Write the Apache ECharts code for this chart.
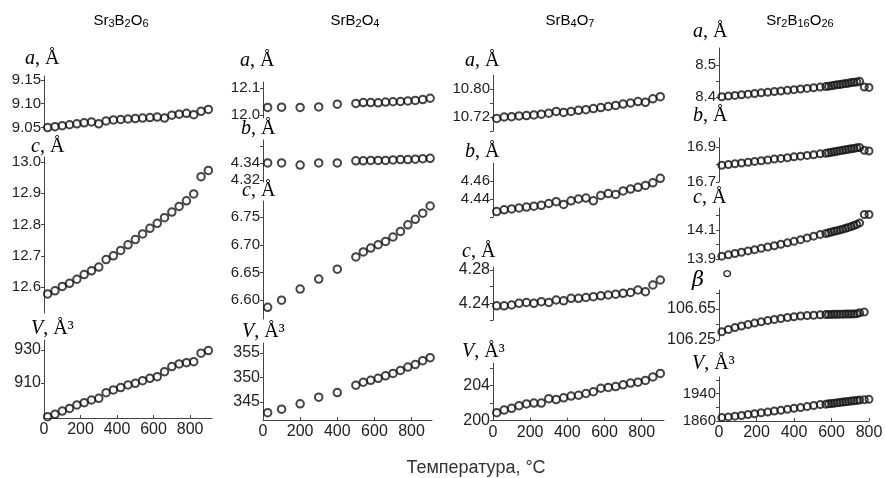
<!DOCTYPE html>
<html>
<head>
<meta charset="utf-8">
<script src="https://cdn.jsdelivr.net/npm/echarts@6/dist/echarts.min.js"></script>
<style>
  html, body { margin: 0; padding: 0; background: #fff; }
  #chart { width: 885px; height: 478px; }
</style>
</head>
<body>
<div id="chart"></div>
<script>
// Temperatures (°C) of the measurements for each compound
const temps1 = [20, 60, 100, 140, 180, 220, 260, 300, 340, 380, 420, 460, 500, 540, 580, 620, 660, 700, 740, 780, 820, 860, 900];
const temps2 = [25, 100, 200, 300, 400, 500, 540, 580, 620, 660, 700, 740, 780, 820, 860, 900];
const temps3 = [20, 60, 100, 140, 180, 220, 260, 300, 340, 380, 420, 460, 500, 540, 580, 620, 660, 700, 740, 780, 820, 860, 900];
const temps4 = [15, 50, 85, 120, 155, 190, 225, 260, 295, 330, 365, 400, 435, 470, 505, 540, 570, 585, 600, 615, 630, 645, 660, 675, 690, 705, 720, 735, 750, 775, 800];

// Sr3B2O6 lattice parameters
const sr3b2o6_a = [9.050, 9.052, 9.054, 9.056, 9.058, 9.060, 9.062, 9.058, 9.064, 9.066, 9.067, 9.068, 9.069, 9.070, 9.071, 9.072, 9.070, 9.076, 9.078, 9.080, 9.077, 9.084, 9.088];
const sr3b2o6_c = [12.578, 12.588, 12.602, 12.612, 12.625, 12.640, 12.652, 12.664, 12.688, 12.700, 12.717, 12.735, 12.752, 12.770, 12.788, 12.804, 12.822, 12.840, 12.858, 12.876, 12.898, 12.953, 12.973];
const sr3b2o6_V = [889.6, 891.0, 893.0, 894.6, 896.7, 898.1, 899.7, 900.7, 904.1, 905.8, 907.2, 908.8, 909.8, 911.4, 912.8, 913.8, 916.8, 919.9, 921.5, 922.3, 922.9, 928.0, 929.6];

// SrB2O4 lattice parameters
const srb2o4_a = [12.028, 12.029, 12.028, 12.030, 12.040, 12.043, 12.046, 12.046, 12.045, 12.048, 12.049, 12.050, 12.052, 12.054, 12.057, 12.062];
const srb2o4_b = [4.340, 4.340, 4.3375, 4.340, 4.340, 4.3425, 4.3425, 4.343, 4.343, 4.343, 4.3435, 4.344, 4.344, 4.3445, 4.345, 4.3455];
const srb2o4_c = [6.587, 6.600, 6.620, 6.638, 6.656, 6.678, 6.687, 6.694, 6.700, 6.706, 6.714, 6.724, 6.736, 6.746, 6.757, 6.770];
const srb2o4_V = [342.8, 343.5, 344.6, 345.95, 346.9, 348.4, 349.0, 349.4, 349.8, 350.3, 350.8, 351.4, 352.1, 352.6, 353.4, 354.0];

// SrB4O7 lattice parameters
const srb4o7_a = [10.716, 10.720, 10.721, 10.723, 10.724, 10.726, 10.728, 10.731, 10.736, 10.733, 10.736, 10.739, 10.741, 10.744, 10.747, 10.750, 10.753, 10.757, 10.760, 10.764, 10.762, 10.772, 10.778];
const srb4o7_b = [4.426, 4.428, 4.429, 4.430, 4.431, 4.432, 4.433, 4.435, 4.437, 4.434, 4.438, 4.440, 4.441, 4.438, 4.444, 4.446, 4.445, 4.449, 4.451, 4.453, 4.455, 4.458, 4.463];
const srb4o7_c = [4.237, 4.237, 4.238, 4.240, 4.241, 4.240, 4.242, 4.241, 4.244, 4.243, 4.246, 4.246, 4.247, 4.248, 4.249, 4.250, 4.251, 4.252, 4.253, 4.256, 4.254, 4.262, 4.268];
const srb4o7_V = [200.9, 201.2, 201.4, 201.7, 201.9, 202.0, 202.0, 202.5, 202.4, 202.6, 202.8, 202.9, 203.1, 203.3, 203.7, 203.8, 203.9, 204.1, 204.3, 204.4, 204.6, 205.0, 205.4];

// Sr2B16O26 lattice parameters
const sr2b16o26_a = [8.401, 8.403, 8.405, 8.407, 8.409, 8.411, 8.413, 8.415, 8.417, 8.419, 8.421, 8.423, 8.425, 8.427, 8.429, 8.431, 8.433, 8.434, 8.435, 8.437, 8.438, 8.439, 8.441, 8.442, 8.443, 8.445, 8.446, 8.447, 8.449, 8.431, 8.430];
const sr2b16o26_b = [16.795, 16.799, 16.804, 16.808, 16.812, 16.817, 16.821, 16.825, 16.830, 16.834, 16.838, 16.843, 16.847, 16.851, 16.855, 16.860, 16.863, 16.866, 16.869, 16.872, 16.875, 16.878, 16.880, 16.883, 16.886, 16.889, 16.891, 16.894, 16.896, 16.880, 16.876];
const sr2b16o26_c = [13.918, 13.927, 13.936, 13.945, 13.954, 13.963, 13.972, 13.981, 13.990, 14.000, 14.010, 14.020, 14.032, 14.044, 14.056, 14.068, 14.074, 14.079, 14.084, 14.089, 14.094, 14.099, 14.104, 14.110, 14.116, 14.122, 14.129, 14.137, 14.147, 14.205, 14.205];
const sr2b16o26_beta = [106.357, 106.385, 106.410, 106.430, 106.450, 106.468, 106.485, 106.500, 106.515, 106.528, 106.540, 106.550, 106.560, 106.565, 106.570, 106.575, 106.578, 106.580, 106.580, 106.582, 106.582, 106.583, 106.583, 106.585, 106.585, 106.586, 106.587, 106.590, 106.600, 106.610, null];
const sr2b16o26_V = [1870, 1872, 1874, 1876, 1879, 1881, 1884, 1886, 1889, 1891, 1894, 1897, 1899, 1902, 1905, 1908, 1909, 1910, 1911, 1912, 1913, 1914, 1915, 1916, 1917, 1918, 1919, 1920, 1921, 1922, 1923];

// Tick positions and tick labels
const xTickValues = [0, 200, 400, 600, 800];
const xTickLabels = ['0', '200', '400', '600', '800'];

const ticks_sr3b2o6_a = [9.05, 9.10, 9.15];     const labels_sr3b2o6_a = ['9.05', '9.10', '9.15'];
const ticks_sr3b2o6_c = [12.6, 12.7, 12.8, 12.9, 13.0]; const labels_sr3b2o6_c = ['12.6', '12.7', '12.8', '12.9', '13.0'];
const ticks_sr3b2o6_V = [910, 930];             const labels_sr3b2o6_V = ['910', '930'];

const ticks_srb2o4_a = [12.0, 12.1];            const labels_srb2o4_a = ['12.0', '12.1'];
const ticks_srb2o4_b = [4.32, 4.34, 4.36];      const labels_srb2o4_b = ['4.32', '4.34'];
const ticks_srb2o4_c = [6.60, 6.65, 6.70, 6.75]; const labels_srb2o4_c = ['6.60', '6.65', '6.70', '6.75'];
const ticks_srb2o4_V = [345, 350, 355];         const labels_srb2o4_V = ['345', '350', '355'];

const ticks_srb4o7_a = [10.68, 10.72, 10.76, 10.80]; const labels_srb4o7_a = ['10.72', '10.80'];
const ticks_srb4o7_b = [4.42, 4.44, 4.46];      const labels_srb4o7_b = ['4.44', '4.46'];
const ticks_srb4o7_c = [4.22, 4.24, 4.26, 4.28]; const labels_srb4o7_c = ['4.24', '4.28'];
const ticks_srb4o7_V = [200, 202, 204, 206];    const labels_srb4o7_V = ['200', '204'];

const ticks_sr2b16o26_a = [8.40, 8.45, 8.50];   const labels_sr2b16o26_a = ['8.4', '8.5'];
const ticks_sr2b16o26_b = [16.7, 16.8, 16.9];   const labels_sr2b16o26_b = ['16.7', '16.9'];
const ticks_sr2b16o26_c = [13.9, 14.0, 14.1, 14.2]; const labels_sr2b16o26_c = ['13.9', '14.1'];
const ticks_sr2b16o26_beta = [106.25, 106.45, 106.65, 106.85]; const labels_sr2b16o26_beta = ['106.25', '106.65'];
const ticks_sr2b16o26_V = [1860, 1900, 1940, 1980]; const labels_sr2b16o26_V = ['1860', '1940'];

const compounds = [
  ['Sr', '3', 'B', '2', 'O', '6'],
  ['Sr', '', 'B', '2', 'O', '4'],
  ['Sr', '', 'B', '4', 'O', '7'],
  ['Sr', '2', 'B', '16', 'O', '26']
];
const xAxisTitle = 'Температура, °C';

// ---- layout of the four columns (pixels) ----
const columns = [
  { left: 44,  width: 168, xmax: 920, titleX: 121 },
  { left: 263, width: 169, xmax: 910, titleX: 355 },
  { left: 493, width: 171, xmax: 920, titleX: 570 },
  { left: 719, width: 150, xmax: 800, titleX: 800 }
];

// one entry per small panel: data, y range and vertical placement
const panels = [
  { col: 0, t: temps1, v: sr3b2o6_a, min: 9.045, max: 9.158, top: 76, h: 54, ticks: ticks_sr3b2o6_a, labels: labels_sr3b2o6_a, name: 'a', unit: ', Å', lx: 25, ly: 69, fs: 15 },
  { col: 0, t: temps1, v: sr3b2o6_c, min: 12.517, max: 13.016, top: 157, h: 156, ticks: ticks_sr3b2o6_c, labels: labels_sr3b2o6_c, name: 'c', unit: ', Å', lx: 31, ly: 157, fs: 15 },
  { col: 0, t: temps1, v: sr3b2o6_V, min: 888.8, max: 936, top: 340, h: 78, ticks: ticks_sr3b2o6_V, labels: labels_sr3b2o6_V, name: 'V', unit: ', Å³', lx: 31, ly: 339, fs: 16, bottom: true },

  { col: 1, t: temps2, v: srb2o4_a, min: 11.989, max: 12.122, top: 82, h: 36, ticks: ticks_srb2o4_a, labels: labels_srb2o4_a, name: 'a', unit: ', Å', lx: 240, ly: 71, fs: 15 },
  { col: 1, t: temps2, v: srb2o4_b, min: 4.3176, max: 4.367, top: 140, h: 42, ticks: ticks_srb2o4_b, labels: labels_srb2o4_b, name: 'b', unit: ', Å', lx: 241, ly: 139, fs: 15 },
  { col: 1, t: temps2, v: srb2o4_c, min: 6.566, max: 6.779, top: 201, h: 118, ticks: ticks_srb2o4_c, labels: labels_srb2o4_c, name: 'c', unit: ', Å', lx: 242, ly: 201, fs: 15 },
  { col: 1, t: temps2, v: srb2o4_V, min: 341.3, max: 357, top: 343, h: 77, ticks: ticks_srb2o4_V, labels: labels_srb2o4_V, name: 'V', unit: ', Å³', lx: 242, ly: 342, fs: 16, bottom: true },

  { col: 2, t: temps3, v: srb4o7_a, min: 10.68, max: 10.84, top: 75, h: 56, ticks: ticks_srb4o7_a, labels: labels_srb4o7_a, name: 'a', unit: ', Å', lx: 465, ly: 71, fs: 15 },
  { col: 2, t: temps3, v: srb4o7_b, min: 4.42, max: 4.48, top: 163, h: 54, ticks: ticks_srb4o7_b, labels: labels_srb4o7_b, name: 'b', unit: ', Å', lx: 465, ly: 162, fs: 15 },
  { col: 2, t: temps3, v: srb4o7_c, min: 4.22, max: 4.2836, top: 267, h: 53, ticks: ticks_srb4o7_c, labels: labels_srb4o7_c, name: 'c', unit: ', Å', lx: 462, ly: 262, fs: 16 },
  { col: 2, t: temps3, v: srb4o7_V, min: 200, max: 206.6, top: 363, h: 57.5, ticks: ticks_srb4o7_V, labels: labels_srb4o7_V, name: 'V', unit: ', Å³', lx: 462, ly: 362, fs: 16, bottom: true },

  { col: 3, t: temps4, v: sr2b16o26_a, min: 8.397, max: 8.553, top: 48, h: 50, ticks: ticks_sr2b16o26_a, labels: labels_sr2b16o26_a, name: 'a', unit: ', Å', lx: 693, ly: 42, fs: 15 },
  { col: 3, t: temps4, v: sr2b16o26_b, min: 16.7, max: 16.95, top: 138, h: 44, ticks: ticks_sr2b16o26_b, labels: labels_sr2b16o26_b, name: 'b', unit: ', Å', lx: 693, ly: 126, fs: 15 },
  { col: 3, t: temps4, v: sr2b16o26_c, min: 13.895, max: 14.25, top: 208, h: 51.5, ticks: ticks_sr2b16o26_c, labels: labels_sr2b16o26_c, name: 'c', unit: ', Å', lx: 693, ly: 208, fs: 15 },
  { col: 3, t: temps4, v: sr2b16o26_beta, min: 106.25, max: 106.895, top: 290, h: 50, ticks: ticks_sr2b16o26_beta, labels: labels_sr2b16o26_beta, name: 'β', unit: '', lx: 692, ly: 291, fs: 16 },
  { col: 3, t: temps4, v: sr2b16o26_V, min: 1860, max: 1988, top: 377, h: 44, ticks: ticks_sr2b16o26_V, labels: labels_sr2b16o26_V, name: 'V', unit: ', Å³', lx: 692, ly: 374, fs: 15, bottom: true }
];

const INK = '#222';
const AXIS = '#444';

function labelFormatter(labels) {
  return function (value) {
    const hit = labels.find(s => Math.abs(Number(s) - value) < 1e-9);
    return hit === undefined ? '' : hit;
  };
}

const grids = [], xAxes = [], yAxes = [], series = [];
panels.forEach((p, i) => {
  const c = columns[p.col];
  grids.push({ left: c.left, top: p.top, width: c.width, height: p.h, containLabel: false, outerBoundsMode: 'none' });
  xAxes.push({
    type: 'value', gridIndex: i, min: 0, max: c.xmax, show: !!p.bottom,
    axisLine: { show: true, lineStyle: { color: AXIS, width: 1 } },
    axisTick: { show: true, inside: true, length: 3, lineStyle: { color: AXIS }, customValues: xTickValues },
    axisLabel: { show: true, fontFamily: 'Liberation Sans', fontSize: 16, color: INK, margin: 4,
                 customValues: xTickValues, formatter: labelFormatter(xTickLabels) },
    splitLine: { show: false }
  });
  yAxes.push({
    type: 'value', gridIndex: i, min: p.min, max: p.max,
    axisLine: { show: true, lineStyle: { color: AXIS, width: 1 } },
    axisTick: { show: true, inside: false, length: 3, lineStyle: { color: AXIS }, customValues: p.ticks },
    axisLabel: { show: true, fontFamily: 'Liberation Sans', fontSize: p.fs, color: INK, margin: 3,
                 customValues: p.labels.map(Number), formatter: labelFormatter(p.labels) },
    splitLine: { show: false }
  });
  series.push({
    type: 'scatter', xAxisIndex: i, yAxisIndex: i,
    symbol: 'circle', symbolSize: p.col === 3 ? 7 : 7.5,
    itemStyle: { color: 'rgba(0,0,0,0)', borderColor: '#151515', borderWidth: 2 },
    data: p.t.map((t, k) => [t, p.v[k]]).filter(d => d[1] !== null && d[1] !== undefined),
    silent: true
  });
});

// text elements: compound names, parameter names, common axis title
const serifRich = {
  v: { fontFamily: 'Liberation Serif', fontStyle: 'italic', fontSize: 20, color: INK },
  g: { fontFamily: 'DejaVu Serif', fontStyle: 'italic', fontSize: 21, color: INK },
  u: { fontFamily: 'Liberation Serif', fontSize: 20, color: INK }
};
const graphics = [];
panels.forEach(p => {
  const isGreek = p.name === 'β';
  graphics.push({
    type: 'text', x: p.lx, y: p.ly, silent: true,
    style: {
      text: (isGreek ? '{g|' + p.name + '}' : '{v|' + p.name + '}') + (p.unit ? '{u|' + p.unit + '}' : ''),
      rich: serifRich, verticalAlign: 'bottom', align: 'left'
    }
  });
  if (isGreek) {
    graphics.push({
      type: 'text', x: 722, y: p.ly - 12, silent: true,
      style: { text: '°', fontFamily: 'Liberation Serif', fontSize: 26, fill: INK, verticalAlign: 'middle', align: 'left' }
    });
  }
});
compounds.forEach((parts, i) => {
  let text = '';
  for (let k = 0; k < parts.length; k += 2) {
    text += '{t|' + parts[k] + '}';
    if (parts[k + 1]) text += '{s|' + parts[k + 1] + '}';
  }
  graphics.push({
    type: 'text', x: columns[i].titleX, y: 21, silent: true,
    style: {
      text: text, align: 'center', verticalAlign: 'middle',
      rich: {
        t: { fontFamily: 'Liberation Sans', fontSize: 15, color: INK, lineHeight: 17 },
        s: { fontFamily: 'Liberation Sans', fontSize: 11, color: INK, verticalAlign: 'bottom', lineHeight: 15 }
      }
    }
  });
});
graphics.push({
  type: 'text', x: 476, y: 468, silent: true,
  style: { text: xAxisTitle, fontFamily: 'Liberation Sans', fontSize: 18, fill: '#333', align: 'center', verticalAlign: 'middle' }
});

const chart = echarts.init(document.getElementById('chart'), null, { renderer: 'canvas' });
chart.setOption({
  animation: false,
  backgroundColor: '#fff',
  grid: grids,
  xAxis: xAxes,
  yAxis: yAxes,
  series: series,
  graphic: graphics
});
</script>
</body>
</html>
